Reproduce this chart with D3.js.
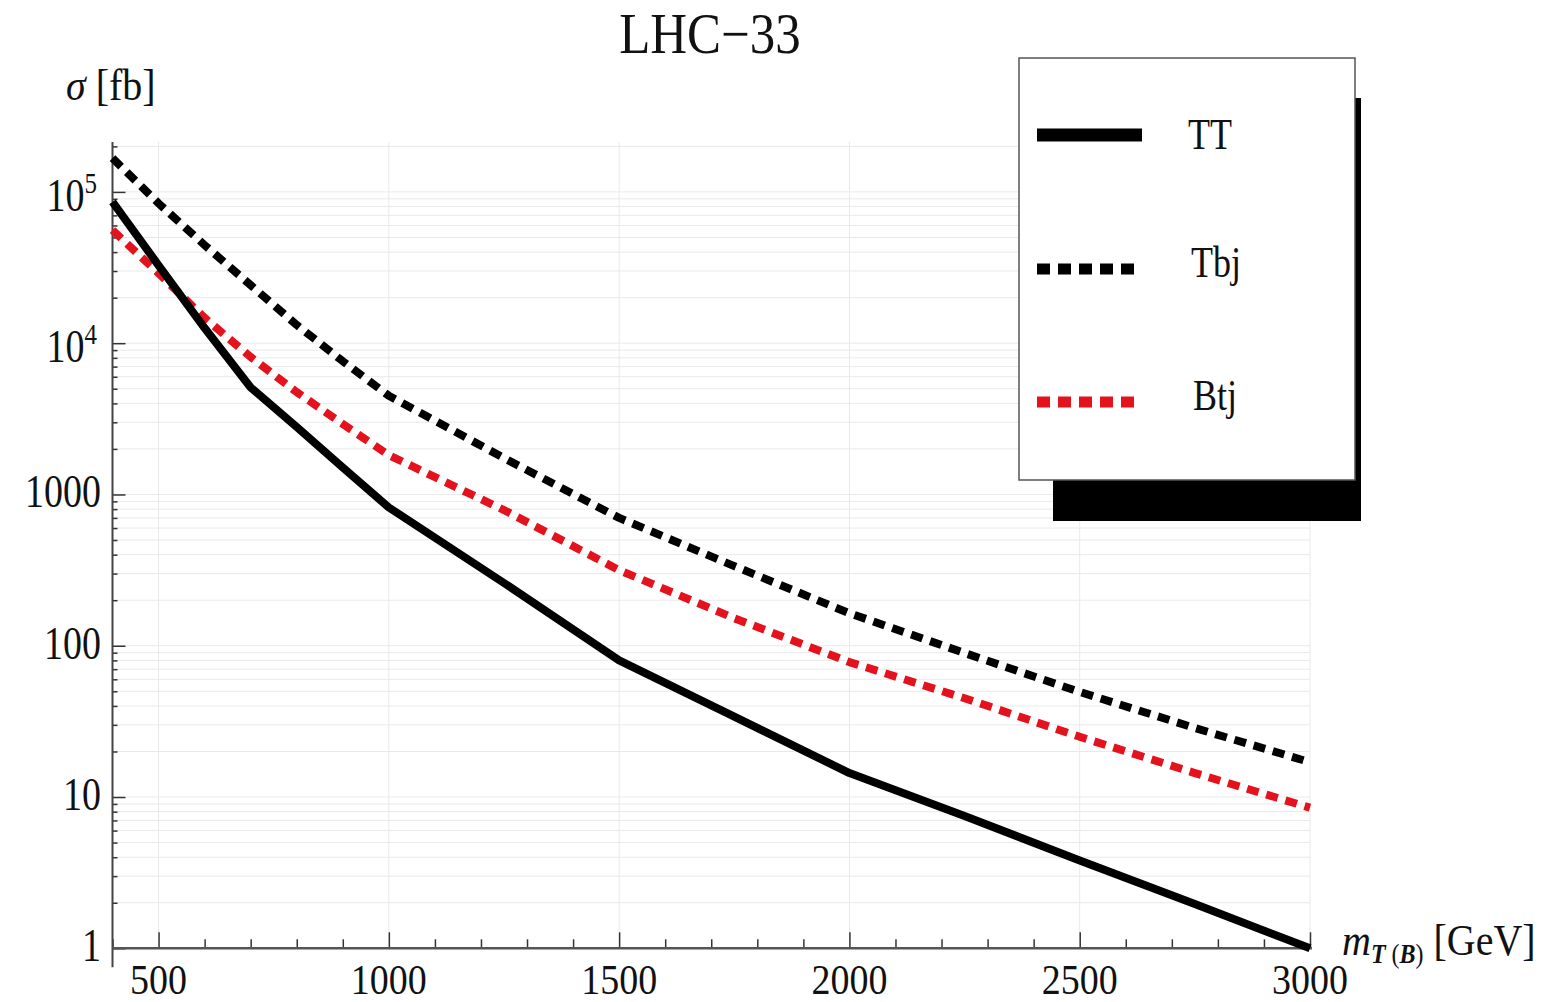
<!DOCTYPE html>
<html>
<head>
<meta charset="utf-8">
<script src="https://cdn.jsdelivr.net/npm/d3@7"></script>
<style>
  html, body { margin: 0; padding: 0; background: #fff; }
  svg { display: block; }
</style>
</head>
<body>
<svg id="chart" width="1545" height="1002"></svg>
<script>
// ---------------- data ----------------
const title = "LHC\u221233";
const masses = [400, 500, 600, 700, 800, 900, 1000, 1250, 1500, 1750, 2000, 2250, 2500, 2750, 3000];
const sigmaTT  = [86000, 32700, 12600, 5100, 2790, 1510, 820, 260, 80, 34, 14.4, 7.5, 3.8, 1.96, 1.0];
const sigmaTbj = [167000, 84000, 44500, 24200, 13200, 7600, 4490, 1740, 700, 336, 164, 89.5, 49.5, 28.6, 17];
const sigmaBtj = [55900, 29000, 14700, 8100, 4750, 2920, 1820, 789, 316, 152, 78, 45, 25, 14.4, 8.5];
const seriesNames = ["TT", "Tbj", "Btj"];
const xTickValues = [500, 1000, 1500, 2000, 2500, 3000];
const yTickLabels = [
  {v: 1, base: "1", sup: ""},
  {v: 10, base: "10", sup: ""},
  {v: 100, base: "100", sup: ""},
  {v: 1000, base: "1000", sup: ""},
  {v: 10000, base: "10", sup: "4"},
  {v: 100000, base: "10", sup: "5"}
];

// ---------------- setup ----------------
const svg = d3.select("#chart");
const FONT = "'Liberation Serif', 'Times New Roman', serif";
const KY = 1.2; // vertical stretch of text as in the reference

const x = d3.scaleLinear().domain([400, 3000]).range([112.5, 1310]);
const y = d3.scaleLog().domain([1, Math.pow(10, 5.33)]).range([948.3, 142]);

const xMinor = d3.range(400, 3001, 100);
const yMinor = [];
for (let k = 0; k <= 5; k++) for (let m = 1; m <= 9; m++) {
  const v = m * Math.pow(10, k);
  if (v <= y.domain()[1]) yMinor.push(v);
}
const yMajor = yTickLabels.map(d => d.v);

function txt(parent, xx, yy, size, anchor, k) {
  return parent.append("text")
    .attr("transform", `translate(${xx},${yy}) scale(1,${k})`)
    .attr("font-family", FONT)
    .attr("font-size", size)
    .attr("text-anchor", anchor)
    .attr("fill", "#111");
}

// ---------------- grid ----------------
const grid = svg.append("g");
grid.selectAll("line.h").data(yMinor.filter(v => v > 1)).join("line")
  .attr("x1", x(400)).attr("x2", x(3000))
  .attr("y1", d => y(d)).attr("y2", d => y(d))
  .attr("stroke", "#e9e9e9").attr("stroke-width", 1);
grid.selectAll("line.v").data(xTickValues).join("line")
  .attr("x1", d => x(d)).attr("x2", d => x(d))
  .attr("y1", y.range()[1]).attr("y2", y(1))
  .attr("stroke", "#e9e9e9").attr("stroke-width", 1);

// ---------------- axes ----------------
const axX = svg.append("g").attr("transform", `translate(0,${y(1)})`);
axX.call(d3.axisBottom(x).tickValues(xMinor.filter(v => v % 500 !== 0)).tickSizeInner(-9).tickSizeOuter(0).tickFormat(""));
const axX2 = svg.append("g").attr("transform", `translate(0,${y(1)})`);
axX2.call(d3.axisBottom(x).tickValues(xTickValues).tickSizeInner(-16).tickSizeOuter(0).tickFormat(""));
[axX, axX2].forEach(a => {
  a.select(".domain").remove();
  a.selectAll(".tick line").attr("stroke", "#333").attr("stroke-width", 1.5);
});

const axY = svg.append("g").attr("transform", `translate(${x(400)},0)`);
axY.call(d3.axisRight(y).tickValues(yMinor.filter(v => !yMajor.includes(v))).tickSizeInner(5).tickSizeOuter(0).tickFormat(""));
const axY2 = svg.append("g").attr("transform", `translate(${x(400)},0)`);
axY2.call(d3.axisRight(y).tickValues(yMajor).tickSizeInner(13).tickSizeOuter(0).tickFormat(""));
[axY, axY2].forEach(a => {
  a.select(".domain").remove();
  a.selectAll(".tick line").attr("stroke", "#333").attr("stroke-width", 1.5);
});

// axis lines
svg.append("line").attr("x1", x(400)).attr("x2", x(400))
  .attr("y1", y.range()[1]).attr("y2", y(1) + 19)
  .attr("stroke", "#444").attr("stroke-width", 2);
svg.append("line").attr("x1", x(400)).attr("x2", x(3000) + 2)
  .attr("y1", y(1)).attr("y2", y(1))
  .attr("stroke", "#555").attr("stroke-width", 2.5);

// tick labels
xTickValues.forEach(v => {
  txt(svg, x(v), 994, 38, "middle", 1.12).text(v);
});
yTickLabels.forEach(d => {
  if (d.sup) {
    const t = txt(svg, 97, y(d.v) + 19, 38, "end", KY);
    t.append("tspan").text(d.base);
    t.append("tspan").attr("dy", -15).attr("font-size", 25).text(d.sup);
  } else {
    txt(svg, 101, y(d.v) + 13, 38, "end", KY).text(d.base);
  }
});

// ---------------- title & axis labels ----------------
txt(svg, 710, 53, 51, "middle", 1.12).text(title);

const yl = txt(svg, 66, 100, 40, "start", 1.1);
yl.append("tspan").attr("font-style", "italic").text("\u03c3");
yl.append("tspan").text(" [fb]");

const xl = txt(svg, 1342, 955, 40, "start", 1.1);
xl.append("tspan").attr("font-style", "italic").text("m");
xl.append("tspan").attr("dy", 7).attr("font-size", 24).attr("font-style", "italic").attr("font-weight", "bold").text("T");
xl.append("tspan").attr("font-size", 24).text(" (");
xl.append("tspan").attr("font-size", 24).attr("font-style", "italic").attr("font-weight", "bold").text("B");
xl.append("tspan").attr("font-size", 24).text(")");
xl.append("tspan").attr("dy", -7).text(" [GeV]");

// ---------------- curves ----------------
const line = d3.line().x(d => x(d[0])).y(d => y(d[1]));
const dataTT  = masses.map((m, i) => [m, sigmaTT[i]]);
const dataTbj = masses.map((m, i) => [m, sigmaTbj[i]]);
const dataBtj = masses.map((m, i) => [m, sigmaBtj[i]]);

const styles = [
  {name: seriesNames[0], data: dataTT,  color: "#000000", dash: null,   width: 8},
  {name: seriesNames[1], data: dataTbj, color: "#000000", dash: "12,8", width: 8},
  {name: seriesNames[2], data: dataBtj, color: "#e3121c", dash: "12,8", width: 8}
];

const curves = svg.append("g");
[styles[2], styles[1], styles[0]].forEach(s => {
  curves.append("path").datum(s.data)
    .attr("d", line)
    .attr("fill", "none")
    .attr("stroke", s.color)
    .attr("stroke-width", s.width)
    .attr("stroke-dasharray", s.dash)
    .attr("stroke-linejoin", "round")
    .attr("stroke-linecap", "butt");
});

// ---------------- legend ----------------
const lg = svg.append("g");
lg.append("rect").attr("x", 1053).attr("y", 98).attr("width", 308).attr("height", 423).attr("fill", "#000");
lg.append("rect").attr("x", 1019).attr("y", 58).attr("width", 336).attr("height", 422)
  .attr("fill", "#fff").attr("stroke", "#555").attr("stroke-width", 1.5);

const legRows = [135, 269, 402];
const legTextX = [1188, 1191, 1193];
const legTextY = [149, 277, 410];
styles.forEach((s, i) => {
  lg.append("line")
    .attr("x1", 1037).attr("x2", s.dash ? 1137 : 1142)
    .attr("y1", legRows[i]).attr("y2", legRows[i])
    .attr("stroke", s.color)
    .attr("stroke-width", s.dash ? 11 : 13)
    .attr("stroke-dasharray", s.dash ? "13,8" : null);
  txt(lg, legTextX[i], legTextY[i], 36, "start", 1.25).text(s.name);
});
</script>
</body>
</html>
